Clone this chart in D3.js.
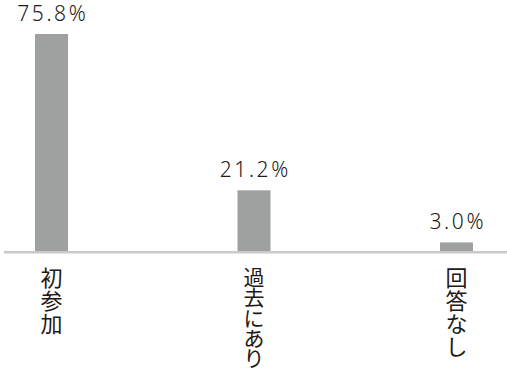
<!DOCTYPE html>
<html>
<head>
<meta charset="utf-8">
<script src="https://cdn.jsdelivr.net/npm/d3@7"></script>
<style>
  html, body { margin: 0; padding: 0; background: #fff; }
  svg { display: block; }
</style>
</head>
<body>
<svg id="chart" width="507" height="374"></svg>
<script>
const categories = ["初参加", "過去にあり", "回答なし"];
const values = [75.8, 21.2, 3.0];
const valueLabels = ["75.8%", "21.2%", "3.0%"];

const svg = d3.select("#chart");
const W = 507, H = 374;
const baseY = 251;

const x = d3.scalePoint().domain(categories).range([51.5, 456.5]);
const y = d3.scaleLinear().domain([0, 75.8]).range([baseY, 34]);
const bw = 33;

svg.selectAll("rect.bar")
  .data(values)
  .join("rect")
  .attr("class", "bar")
  .attr("x", (d, i) => x(categories[i]) - bw / 2)
  .attr("y", d => y(d))
  .attr("width", bw)
  .attr("height", d => baseY - y(d))
  .attr("fill", "#9fa0a0");

// baseline
svg.append("rect")
  .attr("x", 4).attr("y", baseY)
  .attr("width", W - 4).attr("height", 2.5)
  .attr("fill", "#c9caca");

// value labels
const ls = 2.6;
svg.selectAll("text.val")
  .data(values)
  .join("text")
  .attr("class", "val")
  .attr("x", (d, i) => x(categories[i]) + ls / 2)
  .attr("y", d => y(d) - 13)
  .attr("text-anchor", "middle")
  .attr("font-family", "'Noto Sans', Lato, sans-serif")
  .attr("font-size", 21)
  .attr("font-weight", 300)
  .attr("letter-spacing", ls)
  .attr("fill", "#231815")
  .text((d, i) => valueLabels[i]);

// vertical category labels (fit into the space below the axis)
const labelTop = 266, labelBottom = 368;
categories.forEach(c => {
  const chars = Array.from(c);
  const step = Math.min(23, (labelBottom - labelTop) / chars.length);
  const fs = Math.min(22, step + 0.5);
  const g = svg.append("text")
    .attr("text-anchor", "middle")
    .attr("font-family", "'Noto Sans CJK JP', sans-serif")
    .attr("font-size", fs)
    .attr("fill", "#231815");
  chars.forEach((ch, j) => {
    g.append("tspan")
      .attr("x", x(c))
      .attr("y", labelTop + fs * 0.9 + j * step)
      .text(ch);
  });
});
</script>
</body>
</html>
